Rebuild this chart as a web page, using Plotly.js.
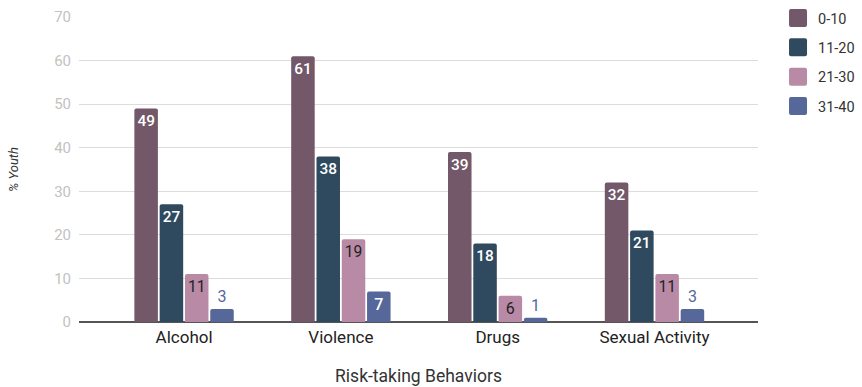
<!DOCTYPE html>
<html>
<head>
<meta charset="utf-8">
<script src="https://cdn.plot.ly/plotly-3.0.1.min.js"></script>
<style>html,body{margin:0;padding:0;background:#fff;}#chart{width:862px;height:387px;}</style>
</head>
<body>
<div id="chart"></div>
<script>
const categories = ["Alcohol", "Violence", "Drugs", "Sexual Activity"];
const seriesNames = ["0-10", "11-20", "21-30", "31-40"];
const s0_10 = [49, 61, 39, 32];
const s11_20 = [27, 38, 18, 21];
const s21_30 = [11, 19, 6, 11];
const s31_40 = [3, 7, 1, 3];
const yTicks = [0, 10, 20, 30, 40, 50, 60, 70];

const colors = ["#725868", "#2f4a5e", "#b98aa6", "#56679a"];
const insideText = ["#ffffff", "#ffffff", "#222222", "#ffffff"];
const allSeries = [s0_10, s11_20, s21_30, s31_40];

const traces = allSeries.map((vals, i) => ({
  type: "bar",
  name: seriesNames[i],
  x: categories,
  y: vals,
  text: vals.map(String),
  textposition: "auto",
  insidetextanchor: "end",
  insidetextfont: {family: "Roboto, sans-serif", size: 16, color: insideText[i], weight: i === 2 ? 400 : 500},
  outsidetextfont: {family: "Roboto, sans-serif", size: 16, color: colors[i]},
  textangle: 0,
  cliponaxis: false,
  marker: {color: colors[i], cornerradius: 2},
  legendgroup: "g" + i,
  hoverinfo: "x+y+name"
}));

const layout = {
  width: 862, height: 387,
  margin: {l: 79, r: 104, t: 17, b: 65, autoexpand: false},
  paper_bgcolor: "#ffffff",
  plot_bgcolor: "#ffffff",
  barmode: "group",
  bargap: 0.355,
  bargroupgap: 0.07,
  font: {family: "Roboto, sans-serif", color: "#333"},
  xaxis: {
    range: [-0.67, 3.66],
    showgrid: false,
    showline: false,
    zeroline: false,
    tickfont: {family: "Roboto, sans-serif", size: 17, color: "#222"},
    ticklabelstandoff: 3,
    title: {text: "Risk-taking Behaviors", font: {family: "Roboto, sans-serif", size: 17.5, color: "#333"}, standoff: 23}
  },
  yaxis: {
    range: [0, 70],
    tickvals: yTicks,
    showgrid: true,
    gridcolor: "#dcdcdc",
    gridwidth: 1,
    zeroline: true,
    zerolinecolor: "#555",
    zerolinewidth: 1.5,
    tickfont: {family: "Roboto, sans-serif", size: 15, color: "#c2c2c2"},
    ticklabelstandoff: 7,
    title: {text: "% Youth", font: {family: "Roboto, sans-serif", size: 13, color: "#333", style: "italic"}, standoff: 32}
  },
  legend: {
    x: 1.0295, xanchor: "left",
    y: 1.049, yanchor: "top",
    font: {family: "Roboto, sans-serif", size: 14.5, color: "#333"},
    tracegroupgap: 7.5,
    bgcolor: "rgba(0,0,0,0)"
  },
  showlegend: true
};

Plotly.newPlot("chart", traces, layout, {displayModeBar: false, staticPlot: true}).then(() => {
  document.querySelectorAll("#chart .legendpoints path").forEach(p => {
    p.setAttribute("d", "M7,9H-7A2,2 0 0 1 -9,7V-7A2,2 0 0 1 -7,-9H7A2,2 0 0 1 9,-7V7A2,2 0 0 1 7,9Z");
  });
});
</script>
</body>
</html>
